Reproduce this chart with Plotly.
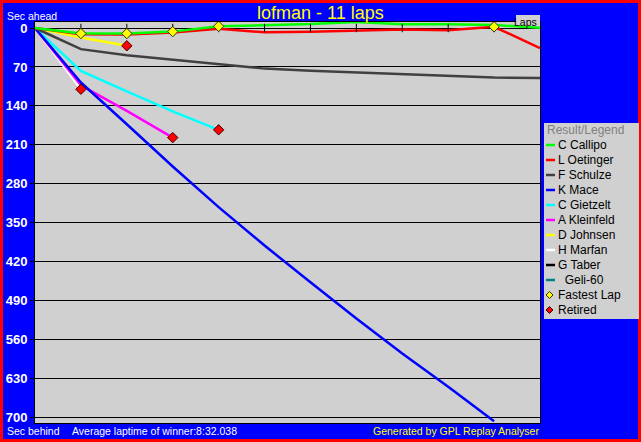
import plotly.graph_objects as go

# ---------------- data ----------------
laps = list(range(12))
lap_ticks = list(range(1, 11))
y_ticks = [0, 70, 140, 210, 280, 350, 420, 490, 560, 630, 700]

drivers = ["C Callipo", "L Oetinger", "F Schulze", "K Mace", "C Gietzelt",
           "A Kleinfeld", "D Johnsen", "H Marfan", "G Taber", "  Geli-60"]
colors = ["#00FF00", "#FF0000", "#404040", "#0000FF", "#00FFFF",
          "#FF00FF", "#FFFF00", "#FFFFFF", "#000000", "#008080"]

callipo = [0, 10, 10, 6.5, -3, -5.5, -7, -11, -6.6, -6.6, -5.4, -0.5]
oetinger = [0, 11, 11.5, 8, 1.2, 7.8, 6.6, 4.5, 2.7, 4, -2.2, 36]
schulze = [0, 38, 49, 57, 65, 73, 77, 80, 83.5, 87, 89, 90]
mace = [0, 98, 173, 249, 322, 391, 457, 522, 585, 645, 707]
gietzelt = [0, 77, 114, 150, 183]
kleinfeld = [0, 103, 149, 197]
johnsen = [0, 17, 32]
marfan = [0, 110]
taber = []
geli = []
gaps = [callipo, oetinger, schulze, mace, gietzelt, kleinfeld, johnsen, marfan, taber, geli]

retired_drivers = ["C Gietzelt", "A Kleinfeld", "D Johnsen", "H Marfan"]
fastest_lap_laps = [1, 2, 3, 4, 10]
fastest_lap_drivers = ["C Callipo", "C Callipo", "C Callipo", "C Callipo", "L Oetinger"]

# ---------------- geometry ----------------
W, H = 641, 442
L, R, T, B = 35, 540, 22, 423


def px(x):
    return (x - L) / (R - L)


def py(y):
    return (B - y) / (B - T)


fig = go.Figure()

# driver lines, drawn in reverse order so the first drivers are on top
for name, col, ys in reversed(list(zip(drivers, colors, gaps))):
    if not ys:
        continue
    fig.add_trace(go.Scatter(x=laps[:len(ys)], y=ys, mode="lines",
                             line=dict(color=col, width=2.5), name=name.strip(),
                             showlegend=False, hoverinfo="skip"))

# lap tick marks on the zero line
fig.add_trace(go.Scatter(x=lap_ticks, y=[0] * len(lap_ticks), mode="markers",
                         marker=dict(symbol="line-ns", size=6,
                                     line=dict(color="black", width=1)),
                         showlegend=False, hoverinfo="skip"))

lookup = dict(zip(drivers, gaps))

# fastest lap markers
fig.add_trace(go.Scatter(x=fastest_lap_laps,
                         y=[lookup[d][lp] for d, lp in zip(fastest_lap_drivers, fastest_lap_laps)],
                         mode="markers",
                         marker=dict(symbol="diamond", size=8, color="#FFFF00",
                                     line=dict(color="#303000", width=1)),
                         showlegend=False, hoverinfo="skip"))

# retired markers (last point of each retired driver)
fig.add_trace(go.Scatter(x=[len(lookup[d]) - 1 for d in retired_drivers],
                         y=[lookup[d][-1] for d in retired_drivers],
                         mode="markers",
                         marker=dict(symbol="diamond", size=8, color="#FF0000",
                                     line=dict(color="#400000", width=1)),
                         showlegend=False, hoverinfo="skip"))

FONT = "Liberation Sans, Arial, sans-serif"
shapes = []
annotations = []

# outer red border
shapes.append(dict(type="rect", xref="paper", yref="paper",
                   x0=px(1.5), x1=px(639.5), y0=py(440.5), y1=py(1.5),
                   line=dict(color="#FF0000", width=3), fillcolor="rgba(0,0,0,0)"))

# "Laps" box
shapes.append(dict(type="rect", xref="paper", yref="paper",
                   x0=px(516), x1=px(540), y0=py(22), y1=py(15),
                   line=dict(width=0), fillcolor="#D0D0D0"))
annotations.append(dict(text="Laps", xref="paper", yref="paper", x=px(539), y=py(21.5),
                        xanchor="right", yanchor="middle", showarrow=False,
                        font=dict(family=FONT, size=10.5, color="black")))

# title and texts
annotations.append(dict(text="lofman - 11 laps", xref="paper", yref="paper",
                        x=px(320), y=py(13), xanchor="center", yanchor="middle",
                        showarrow=False, font=dict(family=FONT, size=18, color="#FFFF00")))
annotations.append(dict(text="Sec ahead", xref="paper", yref="paper", x=px(5), y=py(15.5),
                        xanchor="left", yanchor="middle", showarrow=False,
                        font=dict(family=FONT, size=10.5, color="white")))
annotations.append(dict(text="Sec behind", xref="paper", yref="paper", x=px(5), y=py(431),
                        xanchor="left", yanchor="middle", showarrow=False,
                        font=dict(family=FONT, size=10.5, color="white")))
annotations.append(dict(text="Average laptime of winner:8:32.038", xref="paper", yref="paper",
                        x=px(70), y=py(431), xanchor="left", yanchor="middle", showarrow=False,
                        font=dict(family=FONT, size=10.5, color="white")))
annotations.append(dict(text="Generated by GPL Replay Analyser", xref="paper", yref="paper",
                        x=px(541), y=py(431), xanchor="right", yanchor="middle", showarrow=False,
                        font=dict(family=FONT, size=10.5, color="#FFFF00")))

# legend box
shapes.append(dict(type="rect", xref="paper", yref="paper",
                   x0=px(544), x1=px(639), y0=py(319), y1=py(123),
                   line=dict(width=0), fillcolor="#D0D0D0"))
annotations.append(dict(text="Result/Legend", xref="paper", yref="paper", x=px(545), y=py(130),
                        xanchor="left", yanchor="middle", showarrow=False,
                        font=dict(family=FONT, size=12, color="#808080")))
item_y = 145
for name, col in zip(drivers, colors):
    shapes.append(dict(type="line", xref="paper", yref="paper",
                       x0=px(546), x1=px(555), y0=py(item_y), y1=py(item_y),
                       line=dict(color=col, width=2.5)))
    lead = len(name) - len(name.lstrip(" "))
    annotations.append(dict(text="\u00a0" * lead + name.strip(), xref="paper", yref="paper",
                            x=px(556), y=py(item_y), xanchor="left", yanchor="middle",
                            showarrow=False, font=dict(family=FONT, size=12, color="black")))
    item_y += 15

for label, fill, edge in [("Fastest Lap", "#FFFF00", "#303000"), ("Retired", "#FF0000", "#400000")]:
    cx, cy, r = 549.5, item_y, 3.5
    shapes.append(dict(type="path", xref="paper", yref="paper",
                       path="M {} {} L {} {} L {} {} L {} {} Z".format(
                           px(cx), py(cy - r), px(cx + r), py(cy),
                           px(cx), py(cy + r), px(cx - r), py(cy)),
                       fillcolor=fill, line=dict(color=edge, width=1)))
    annotations.append(dict(text=label, xref="paper", yref="paper", x=px(556), y=py(item_y),
                            xanchor="left", yanchor="middle", showarrow=False,
                            font=dict(family=FONT, size=12, color="black")))
    item_y += 15

fig.update_layout(
    width=W, height=H, autosize=False,
    margin=dict(l=L, r=W - R, t=T, b=H - B, pad=0, autoexpand=False),
    paper_bgcolor="#0000FF",
    plot_bgcolor="#D0D0D0",
    showlegend=False,
    shapes=shapes,
    annotations=annotations,
    xaxis=dict(range=[0, 11], showgrid=False, zeroline=False, showticklabels=False,
               ticks="", showline=True, mirror=True, linecolor="black", linewidth=1,
               fixedrange=True, automargin=False),
    yaxis=dict(range=[710, -10.8], tickvals=y_ticks, ticktext=[str(v) for v in y_ticks],
               showgrid=True, gridcolor="black", gridwidth=1, zeroline=False,
               ticks="outside", ticklen=4, tickcolor="black", tickwidth=1,
               tickfont=dict(family=FONT, size=13, color="white", weight="bold"),
               showline=True, mirror=True, linecolor="black", linewidth=1,
               fixedrange=True, automargin=False),
)

fig.write_html("out.html", config={"displayModeBar": False},
               post_script="document.body.style.margin='0';document.body.style.overflow='hidden';")
